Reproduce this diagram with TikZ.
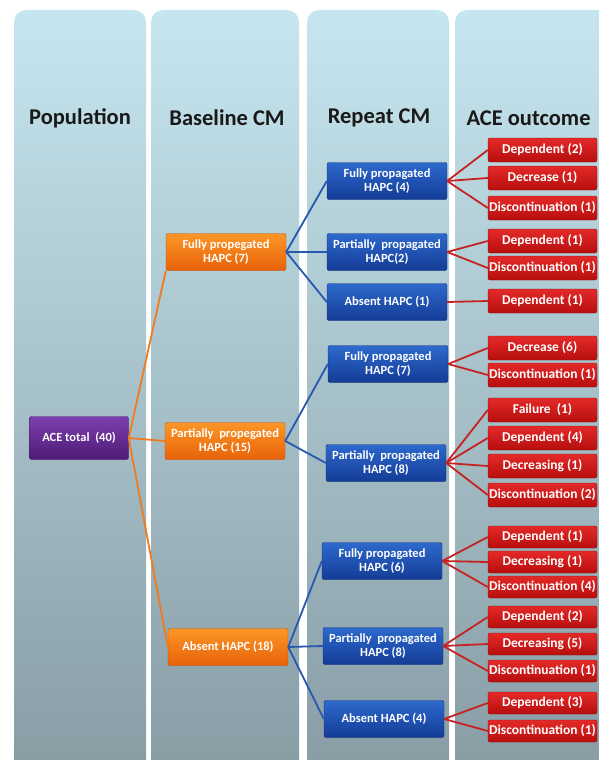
\documentclass[tikz,border=0pt]{standalone}
\usepackage{fontspec}
\setmainfont{Carlito}
\usetikzlibrary{positioning}

\definecolor{panelTop}{RGB}{198,230,239}
\definecolor{panelBot}{RGB}{136,156,164}
\definecolor{popTop}{RGB}{125,62,175}
\definecolor{popBot}{RGB}{78,28,118}
\definecolor{baseTop}{RGB}{252,150,40}
\definecolor{baseBot}{RGB}{232,98,8}
\definecolor{repTop}{RGB}{45,105,205}
\definecolor{repBot}{RGB}{20,60,150}
\definecolor{outTop}{RGB}{228,42,40}
\definecolor{outBot}{RGB}{182,14,14}
\definecolor{lnOrange}{RGB}{240,122,30}
\definecolor{lnBlue}{RGB}{40,88,175}
\definecolor{lnRed}{RGB}{198,34,34}

\begin{document}
\begin{tikzpicture}[x=1pt, y=-1pt,
  panel/.style={rounded corners=12pt, top color=panelTop, bottom color=panelBot},
  head/.style={font=\bfseries\fontsize{22.5}{24}\selectfont, text=black!90},
  box/.style={rounded corners=2pt, text=white, align=center, inner sep=1pt,
    font=\bfseries\fontsize{12.5}{14}\selectfont},
  popbox/.style={box, top color=popTop, bottom color=popBot, draw=popBot!80!black,
    minimum width=99pt, minimum height=43pt},
  basebox/.style={box, top color=baseTop, bottom color=baseBot, draw=baseBot!85!black,
    minimum width=120pt, minimum height=37pt},
  repbox/.style={box, top color=repTop, bottom color=repBot, draw=repBot!80!black,
    minimum width=120pt, minimum height=37pt},
  outbox/.style={box, top color=outTop, bottom color=outBot, draw=outBot!80!black,
    font=\bfseries\fontsize{13.5}{15}\selectfont,
    minimum width=109pt, minimum height=24pt},
  popLink/.style={draw=lnOrange, line width=1.8pt},
  baseLink/.style={draw=lnBlue, line width=1.8pt},
  repLink/.style={draw=lnRed, line width=1.8pt}]

  \useasboundingbox [fill=white] (0,0) rectangle (598,760);

  % columns
  \path [panel] (14,10) rectangle (146,772);
  \path [panel] (151,10) rectangle (299,772);
  \path [panel] (307,10) rectangle (449,772);
  \path [panel] (455,10) rectangle (640,772);

  \node (hdPop) [head] at (80,118) {Population};
  \node (hdBase) [head] at (227,118) {Baseline CM};
  \node (hdRep) [head] at (379,118) {Repeat CM};
  \node (hdOut) [head, anchor=west] at (463,118) {ACE outcome};

  % population
  \node (pop) [popbox] at (79,438) {ACE total \ (40)};

  % baseline CM
  \node (bFull) [basebox] at (226,252) {Fully propegated\\HAPC (7)};
  \node (bPart) [basebox] at (225,441) {Partially \ propegated\\HAPC (15)};
  \node (bAbs) [basebox] at (228,647) {Absent HAPC (18)};

  % repeat CM
  \node (r1) [repbox] at (387,181) {Fully propagated\\HAPC (4)};
  \node (r2) [repbox] at (387,252) {Partially \ propagated\\HAPC(2)};
  \node (r3) [repbox] at (387,302) {Absent HAPC (1)};
  \node (r4) [repbox] at (388,364) {Fully propagated\\HAPC (7)};
  \node (r5) [repbox] at (386,463) {Partially \ propagated\\HAPC (8)};
  \node (r6) [repbox] at (382,561) {Fully propagated\\HAPC (6)};
  \node (r7) [repbox] at (383,646) {Partially \ propagated\\HAPC (8)};
  \node (r8) [repbox] at (384,719) {Absent HAPC (4)};

  % ACE outcome
  \node (o11) [outbox] at (542.5,150) {Dependent (2)};
  \node (o12) [outbox] at (542.5,178) {Decrease (1)};
  \node (o13) [outbox] at (542.5,208) {Discontinuation (1)};
  \node (o21) [outbox] at (542.5,241) {Dependent (1)};
  \node (o22) [outbox] at (542.5,268) {Discontinuation (1)};
  \node (o31) [outbox] at (542.5,301) {Dependent (1)};
  \node (o41) [outbox] at (542.5,348) {Decrease (6)};
  \node (o42) [outbox] at (542.5,375) {Discontinuation (1)};
  \node (o51) [outbox] at (542.5,410) {Failure \ (1)};
  \node (o52) [outbox] at (542.5,438) {Dependent (4)};
  \node (o53) [outbox] at (542.5,466) {Decreasing (1)};
  \node (o54) [outbox] at (542.5,495) {Discontinuation (2)};
  \node (o61) [outbox, minimum height=22pt] at (542.5,537) {Dependent (1)};
  \node (o62) [outbox, minimum height=22pt] at (542.5,562) {Decreasing (1)};
  \node (o63) [outbox, minimum height=22pt] at (542.5,587) {Discontinuation (4)};
  \node (o71) [outbox, minimum height=22pt] at (542.5,617) {Dependent (2)};
  \node (o72) [outbox, minimum height=22pt] at (542.5,644) {Decreasing (5)};
  \node (o73) [outbox, minimum height=22pt] at (542.5,671) {Discontinuation (1)};
  \node (o81) [outbox, minimum height=22pt] at (542.5,703) {Dependent (3)};
  \node (o82) [outbox, minimum height=22pt] at (542.5,731) {Discontinuation (1)};

  % links
  \draw [popLink] (pop.east) -- (bFull.south west);
  \draw [popLink] (pop.east) -- (bPart.west);
  \draw [popLink] (pop.east) -- (bAbs.west);

  \draw [baseLink] (bFull.east) -- (r1.west);
  \draw [baseLink] (bFull.east) -- (r2.west);
  \draw [baseLink] (bFull.east) -- (r3.west);
  \draw [baseLink] (bPart.east) -- (r4.west);
  \draw [baseLink] (bPart.east) -- (r5.west);
  \draw [baseLink] (bAbs.east) -- (r6.west);
  \draw [baseLink] (bAbs.east) -- (r7.west);
  \draw [baseLink] (bAbs.east) -- (r8.west);

  \draw [repLink] (r1.east) -- (o11.west);
  \draw [repLink] (r1.east) -- (o12.west);
  \draw [repLink] (r1.east) -- (o13.west);
  \draw [repLink] (r2.east) -- (o21.west);
  \draw [repLink] (r2.east) -- (o22.west);
  \draw [repLink] (r3.east) -- (o31.west);
  \draw [repLink] (r4.east) -- (o41.west);
  \draw [repLink] (r4.east) -- (o42.west);
  \draw [repLink] (r5.east) -- (o51.west);
  \draw [repLink] (r5.east) -- (o52.west);
  \draw [repLink] (r5.east) -- (o53.west);
  \draw [repLink] (r5.east) -- (o54.west);
  \draw [repLink] (r6.east) -- (o61.west);
  \draw [repLink] (r6.east) -- (o62.west);
  \draw [repLink] (r6.east) -- (o63.west);
  \draw [repLink] (r7.east) -- (o71.west);
  \draw [repLink] (r7.east) -- (o72.west);
  \draw [repLink] (r7.east) -- (o73.west);
  \draw [repLink] (r8.east) -- (o81.west);
  \draw [repLink] (r8.east) -- (o82.west);
\end{tikzpicture}
\end{document}
